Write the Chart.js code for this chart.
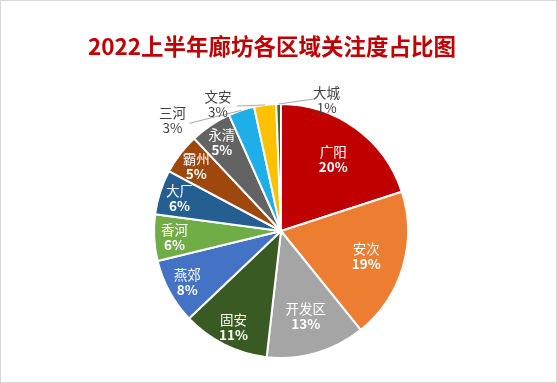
<!DOCTYPE html>
<html>
<head>
<meta charset="utf-8">
<script src="https://cdn.jsdelivr.net/npm/chart.js@4/dist/chart.umd.min.js"></script>
<style>
html,body{margin:0;padding:0;background:#fff;}
canvas{display:block;}
</style>
</head>
<body>
<canvas id="c" width="557" height="383"></canvas>
<script>
const titleText = '2022上半年廊坊各区域关注度占比图';
const regions = ['广阳','安次','开发区','固安','燕郊','香河','大厂','霸州','永清','三河','文安','大城'];
const shares = [20.0, 19.2, 12.6, 11.1, 8.3, 5.9, 5.7, 5.2, 5.3, 3.3, 2.8, 0.6];
const colors = ['#C00000','#ED7D31','#A5A5A5','#3A5A23','#4472C4','#70AD47','#255E91','#9E480E','#636363','#1EAEE8','#FFC000','#43682B'];

const FONT = '"Noto Sans CJK SC", "Noto Sans", sans-serif';

const decor = {
  id: 'decor',
  beforeDraw(chart) {
    const ctx = chart.ctx;
    ctx.save();
    ctx.fillStyle = '#fff';
    ctx.fillRect(0, 0, chart.width, chart.height);
    ctx.strokeStyle = '#d6d6d6';
    ctx.lineWidth = 1;
    ctx.strokeRect(0.5, 0.5, chart.width - 1, chart.height - 1);
    ctx.fillStyle = '#C00000';
    ctx.font = 'bold 22.5px ' + FONT;
    ctx.textAlign = 'center';
    ctx.textBaseline = 'middle';
    ctx.fillText(titleText, 272, 46);
    ctx.restore();
  },
  afterDatasetsDraw(chart) {
    const ctx = chart.ctx;
    const meta = chart.getDatasetMeta(0);
    const data = chart.data.datasets[0].data;
    const total = data.reduce((a, b) => a + b, 0);
    // outside label offsets (relative to slice's outer mid point)
    const outside = {9: {dx: -69, dy: 10, lx: -52, ly: 13}, 10: {dx: -47, dy: -1, lx: -28, ly: 1}, 11: {dx: 48, dy: -4, lx: 35, ly: -5}};
    ctx.save();
    ctx.textAlign = 'center';
    ctx.textBaseline = 'middle';
    meta.data.forEach((arc, i) => {
      const p = arc.getProps(['x','y','startAngle','endAngle','outerRadius'], true);
      const mid = (p.startAngle + p.endAngle) / 2;
      const pct = Math.round(data[i] / total * 100) + '%';
      if (outside[i]) {
        const o = outside[i];
        const ax = p.x + Math.cos(mid) * p.outerRadius;
        const ay = p.y + Math.sin(mid) * p.outerRadius;
        ctx.strokeStyle = '#a6a6a6';
        ctx.lineWidth = 1;
        ctx.beginPath();
        ctx.moveTo(ax, ay);
        ctx.lineTo(ax + o.lx, ay + o.ly);
        ctx.stroke();
        ctx.fillStyle = '#404040';
        ctx.font = '13.5px ' + FONT;
        const cx = ax + o.dx, cy = ay + o.dy;
        ctx.fillText(chart.data.labels[i], cx, cy - 7);
        ctx.fillText(pct, cx, cy + 8);
      } else {
        const r = p.outerRadius * (data[i] >= 12 ? 0.7 : 0.84);
        const cx = p.x + Math.cos(mid) * r;
        const cy = p.y + Math.sin(mid) * r;
        ctx.fillStyle = '#ffffff';
        ctx.font = '13.5px ' + FONT;
        ctx.fillText(chart.data.labels[i], cx, cy - 7);
        ctx.font = 'bold 13.5px ' + FONT;
        ctx.fillText(pct, cx, cy + 8);
      }
    });
    ctx.restore();
  }
};

new Chart(document.getElementById('c'), {
  type: 'pie',
  data: {
    labels: regions,
    datasets: [{
      data: shares,
      backgroundColor: colors,
      borderColor: '#ffffff',
      borderWidth: 2
    }]
  },
  options: {
    responsive: false,
    animation: false,
    devicePixelRatio: 1,
    layout: { padding: { left: 153, right: 148, top: 103, bottom: 24 } },
    plugins: {
      legend: { display: false },
      tooltip: { enabled: false },
      title: { display: false }
    }
  },
  plugins: [decor]
});
</script>
</body>
</html>
